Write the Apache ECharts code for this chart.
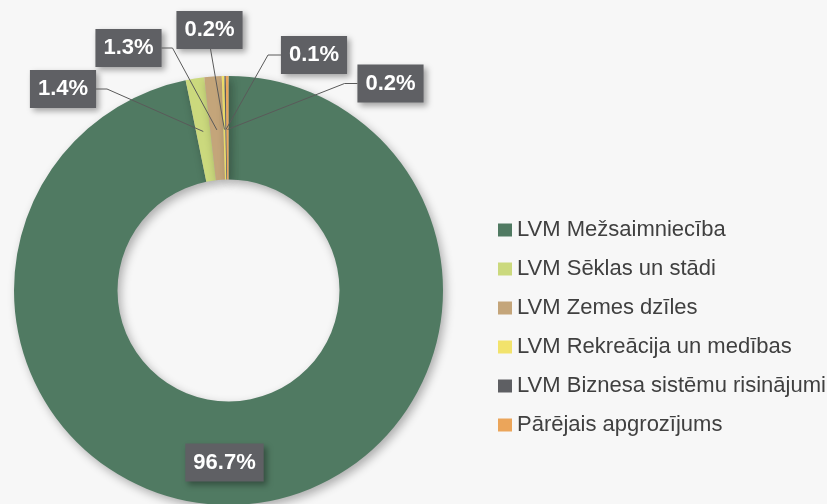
<!DOCTYPE html>
<html>
<head>
<meta charset="utf-8">
<script src="https://cdn.jsdelivr.net/npm/echarts@6/dist/echarts.min.js"></script>
<style>
html,body{margin:0;padding:0;background:#f7f7f7;}
#chart{width:827px;height:504px;}
</style>
</head>
<body>
<div id="chart"></div>
<script>
// ---- data ----
const categories = [
  'LVM Mežsaimniecība',
  'LVM Sēklas un stādi',
  'LVM Zemes dzīles',
  'LVM Rekreācija un medības',
  'LVM Biznesa sistēmu risinājumi',
  'Pārējais apgrozījums'
];
const values = [96.7, 1.4, 1.3, 0.2, 0.1, 0.2];
const colors = ['#507a62', '#cbd97d', '#c4a57a', '#f2e36c', '#5e5f63', '#eba55a'];

// ---- label layout (box centres and box half-widths) ----
const labelPos = [[224.5, 462.5], [63, 89], [128.5, 48], [209.5, 30], [314, 55], [390.5, 83.5]];
const center = [228.5, 290.5];
const radius = [111, 214.5];
const lineRadius = 161;

const total = values.reduce((a, b) => a + b, 0);
function sliceMidPoint(i, r) {
  let cum = 0;
  for (let j = 0; j < i; j++) cum += values[j];
  const frac = (cum + values[i] / 2) / total;
  const a = Math.PI / 2 - frac * 2 * Math.PI;
  return [center[0] + r * Math.cos(a), center[1] - r * Math.sin(a)];
}

const chart = echarts.init(document.getElementById('chart'), null, {renderer: 'canvas'});

const data = categories.map((name, i) => {
  const d = {name: name, value: values[i], itemStyle: {color: colors[i]}};
  if (i === 0) d.label = {position: 'inside'};
  return d;
});

// leader lines (box edge -> elbow -> slice)
const boxHalfW = 33, boxHalfH = 19;
const leaders = [];
for (let i = 1; i < values.length; i++) {
  const pos = labelPos[i];
  const target = sliceMidPoint(i, lineRadius);
  let pts;
  if (i === 3) {
    pts = [[pos[0] + 1, pos[1] + boxHalfH], target];
  } else if (pos[0] < center[0]) {
    const edge = [pos[0] + boxHalfW, pos[1]];
    pts = [edge, [edge[0] + 11, edge[1]], target];
  } else {
    const edge = [pos[0] - boxHalfW, pos[1]];
    pts = [edge, [edge[0] - 13, edge[1]], target];
  }
  leaders.push({
    type: 'polyline',
    z: 50,
    silent: true,
    shape: {points: pts},
    style: {stroke: '#5a5a5a', lineWidth: 1, fill: null}
  });
}

chart.setOption({
  backgroundColor: '#f7f7f7',
  animation: false,
  legend: {
    orient: 'vertical',
    left: 498,
    top: 219,
    padding: 0,
    itemWidth: 14,
    itemHeight: 13,
    itemGap: 17,
    icon: 'rect',
    textStyle: {fontFamily: 'Liberation Sans, Arial, sans-serif', fontSize: 22, color: '#404040', lineHeight: 22},
    data: categories
  },
  graphic: leaders,
  series: [{
    type: 'pie',
    center: center,
    radius: radius,
    startAngle: 90,
    clockwise: true,
    avoidLabelOverlap: false,
    data: data,
    itemStyle: {
      borderWidth: 0,
      shadowBlur: 10,
      shadowOffsetX: 3,
      shadowOffsetY: 4,
      shadowColor: 'rgba(0,0,0,0.3)'
    },
    emphasis: {disabled: true},
    label: {
      show: true,
      position: 'outside',
      formatter: p => p.value.toFixed(1) + '%',
      fontFamily: 'Liberation Sans, Arial, sans-serif',
      fontWeight: 'bold',
      fontSize: 22,
      lineHeight: 22,
      color: '#ffffff',
      backgroundColor: '#5f6064',
      padding: [8, 8, 8, 8],
      shadowBlur: 6,
      shadowOffsetX: 3,
      shadowOffsetY: 3,
      shadowColor: 'rgba(0,0,0,0.35)'
    },
    labelLine: {show: false},
    labelLayout: function (params) {
      const pos = labelPos[params.dataIndex];
      return {x: pos[0], y: pos[1], align: 'center', verticalAlign: 'middle', hideOverlap: false};
    }
  }]
});
</script>
</body>
</html>
